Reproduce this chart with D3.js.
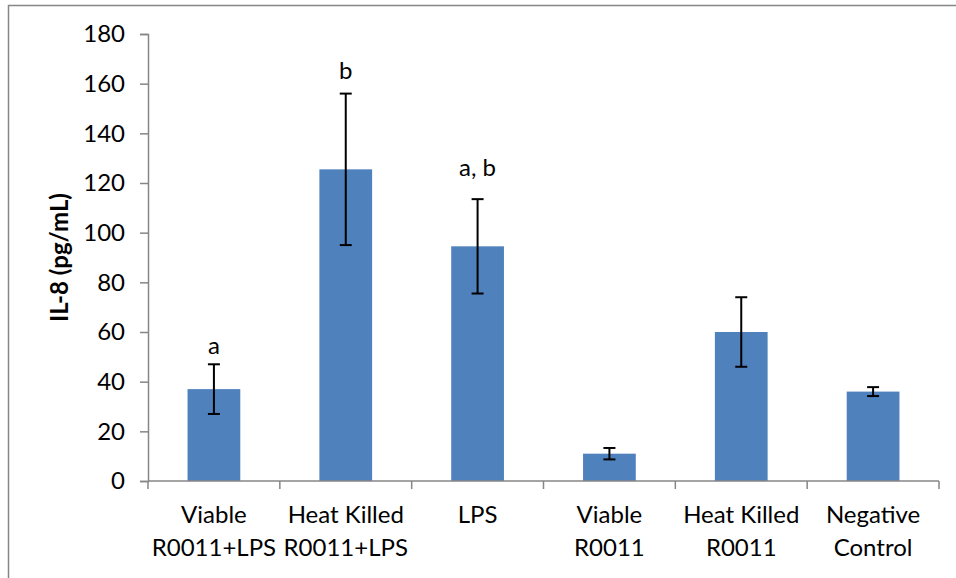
<!DOCTYPE html>
<html>
<head>
<meta charset="utf-8">
<script src="https://cdn.jsdelivr.net/npm/d3@7"></script>
<style>
  body { margin: 0; background: #fff; }
  text { font-family: Lato, "Open Sans", sans-serif; fill: #000; }
</style>
</head>
<body>
<script>
// chart data
const groups = [
  ['Viable', 'R0011+LPS'],
  ['Heat Killed', 'R0011+LPS'],
  ['LPS'],
  ['Viable', 'R0011'],
  ['Heat Killed', 'R0011'],
  ['Negative', 'Control']
];
const il8Means = [37, 125.5, 94.5, 11, 60, 36];
const il8Errors = [10, 30.5, 19, 2.3, 14, 1.8];
const sigLetters = ['a', 'b', 'a, b', '', '', ''];
const sigLetterAt = [51, 162, 123, null, null, null];   // letter baseline, in pg/mL
const yTicks = [0, 20, 40, 60, 80, 100, 120, 140, 160, 180];

const W = 956, H = 578;
const margin = { left: 148, right: 17, top: 34, bottom: 97 };
const fontSize = '24px';

const svg = d3.select(document.body).append('svg')
  .attr('width', W)
  .attr('height', H);

// chart frame (runs off the picture at right and bottom)
svg.append('rect')
  .attr('x', 8.5).attr('y', 5.5)
  .attr('width', 1200).attr('height', 1200)
  .attr('fill', 'none')
  .attr('stroke', '#868686')
  .attr('stroke-width', 1.5);

const x = d3.scaleBand()
  .domain(d3.range(groups.length))
  .range([margin.left, W - margin.right])
  .paddingInner(0.6)
  .paddingOuter(0.3);

const y = d3.scaleLinear()
  .domain([0, 180])
  .range([H - margin.bottom, margin.top]);

const g = svg.append('g');

// bars
g.selectAll('.bar')
  .data(il8Means)
  .enter().append('rect')
  .attr('class', 'bar')
  .attr('x', (d, i) => x(i))
  .attr('y', d => y(d))
  .attr('width', x.bandwidth())
  .attr('height', d => y(0) - y(d))
  .attr('fill', '#4F81BD');

// y axis
const yAxis = g.append('g')
  .attr('transform', `translate(${margin.left},0)`)
  .call(d3.axisLeft(y).tickValues(yTicks).tickSizeOuter(0).tickSize(8).tickPadding(15));

// x axis with ticks on the category boundaries
const xAxisLine = g.append('g');
const x0 = margin.left, x1 = W - margin.right;
xAxisLine.append('line')
  .attr('x1', x0).attr('x2', x1)
  .attr('y1', y(0)).attr('y2', y(0));
xAxisLine.selectAll('.xtick')
  .data(d3.range(groups.length + 1))
  .enter().append('line')
  .attr('class', 'xtick')
  .attr('x1', i => x0 + i * (x1 - x0) / groups.length)
  .attr('x2', i => x0 + i * (x1 - x0) / groups.length)
  .attr('y1', y(0)).attr('y2', y(0) + 8);
xAxisLine.selectAll('line')
  .attr('stroke', '#868686').attr('stroke-width', 1.5);

yAxis.select('.domain').attr('stroke', '#868686').attr('stroke-width', 1.5);
yAxis.selectAll('.tick line').attr('stroke', '#868686').attr('stroke-width', 1.5);
yAxis.selectAll('.tick text')
  .style('font-size', fontSize)
  .style('font-family', 'Lato, "Open Sans", sans-serif')
  .attr('fill', '#000');

// category labels, two lines each
const cx = i => x(i) + x.bandwidth() / 2;
const labels = g.selectAll('.xlabel')
  .data(groups)
  .enter().append('text')
  .attr('class', 'xlabel')
  .attr('text-anchor', 'middle')
  .style('font-size', fontSize);
labels.selectAll('tspan')
  .data((d, i) => d.map(line => ({ line, i })))
  .enter().append('tspan')
  .attr('x', d => cx(d.i))
  .attr('y', (d, j) => y(0) + 42 + j * 33)
  .text(d => d.line);

// error bars
const err = g.selectAll('.err')
  .data(il8Means)
  .enter().append('g')
  .attr('class', 'err')
  .attr('stroke', '#000')
  .attr('stroke-width', 2);
err.append('line')
  .attr('x1', (d, i) => cx(i)).attr('x2', (d, i) => cx(i))
  .attr('y1', (d, i) => y(d + il8Errors[i]))
  .attr('y2', (d, i) => y(d - il8Errors[i]));
[1, -1].forEach(s => {
  err.append('line')
    .attr('x1', (d, i) => cx(i) - 6).attr('x2', (d, i) => cx(i) + 6)
    .attr('y1', (d, i) => y(d + s * il8Errors[i]))
    .attr('y2', (d, i) => y(d + s * il8Errors[i]));
});

// significance letters
g.selectAll('.sig')
  .data(sigLetters)
  .enter().filter(d => d).append('text')
  .attr('class', 'sig')
  .attr('text-anchor', 'middle')
  .attr('x', (d, i) => cx(i))
  .attr('y', (d, i) => y(sigLetterAt[i]))
  .style('font-size', fontSize)
  .text(d => d);

// y axis title
svg.append('text')
  .attr('transform', `translate(68,${(y(0) + y(180)) / 2}) rotate(-90)`)
  .attr('text-anchor', 'middle')
  .style('font-size', '24px')
  .style('font-weight', 'bold')
  .text('IL-8 (pg/mL)');
</script>
</body>
</html>
